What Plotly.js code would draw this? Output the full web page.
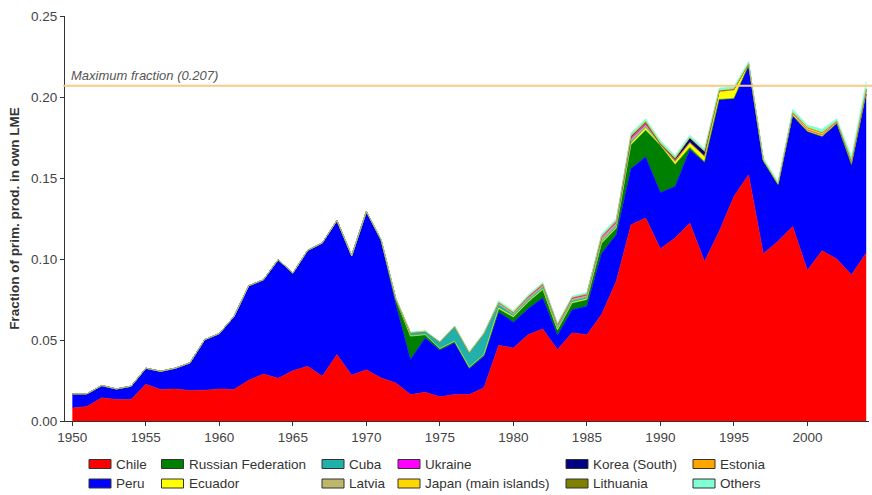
<!DOCTYPE html>
<html>
<head>
<meta charset="utf-8">
<script src="https://cdn.plot.ly/plotly-3.0.1.min.js"></script>
<style>
  html, body { margin: 0; padding: 0; background: #fff; }
  #chart { width: 872px; height: 495px; }
</style>
</head>
<body>
<div id="chart"></div>
<script>
// Fraction of primary production in own LME, by fishing country, 1950-2004
const years = [
  1950,1951,1952,1953,1954,1955,1956,1957,1958,1959,
  1960,1961,1962,1963,1964,1965,1966,1967,1968,1969,
  1970,1971,1972,1973,1974,1975,1976,1977,1978,1979,
  1980,1981,1982,1983,1984,1985,1986,1987,1988,1989,
  1990,1991,1992,1993,1994,1995,1996,1997,1998,1999,
  2000,2001,2002,2003,2004
];

const chile = [
  0.008,0.009,0.0143,0.0133,0.0133,0.0227,0.0194,0.0198,0.0188,0.019,
  0.0198,0.0194,0.0252,0.029,0.0264,0.031,0.0338,0.0276,0.041,0.0283,
  0.0316,0.0266,0.0235,0.0163,0.0178,0.0149,0.0163,0.0163,0.0205,0.0467,
  0.0451,0.0533,0.0568,0.0441,0.0544,0.0533,0.0657,0.0862,0.1211,0.1253,
  0.1064,0.1129,0.1222,0.0985,0.117,0.1386,0.152,0.1033,0.1109,0.1201,
  0.093,0.1051,0.100,0.0903,0.1037
];
const peru = [
  0.0088,0.0078,0.0076,0.0065,0.0082,0.0099,0.0113,0.0128,0.0171,0.0312,
  0.0342,0.0452,0.0583,0.0582,0.0732,0.0603,0.0715,0.0823,0.0828,0.0737,
  0.0977,0.0843,0.0485,0.0216,0.0335,0.0288,0.0319,0.0159,0.0195,0.0205,
  0.0159,0.016,0.0192,0.0089,0.0143,0.0175,0.0378,0.0288,0.0347,0.0377,
  0.0346,0.0319,0.0452,0.061,0.0815,0.0604,0.0675,0.0572,0.0349,0.0684,
  0.0857,0.0705,0.0836,0.0678,0.0983
];
const russianFederation = [
  0,0,0,0,0,0,0,0,0,0,
  0,0,0,0,0,0,0,0,0,0,
  0,0.001,0.003,0.0145,0.002,0.001,0.001,0.001,0.001,0.002,
  0.003,0.004,0.005,0.003,0.004,0.004,0.006,0.004,0.0145,0.0165,
  0.029,0.0135,0.0015,0.0005,0,0,0,0,0,0,
  0,0,0,0,0
];
const ecuador = [
  0,0,0,0,0,0,0,0,0,0,
  0,0,0,0,0,0,0,0,0,0,
  0,0,0,0,0,0,0,0,0,0.0005,
  0.0005,0.0005,0.0005,0.0005,0.0005,0.0005,0.0005,0.0005,0.001,0.0015,
  0.001,0.002,0.003,0.0035,0.005,0.0055,0.001,0.0005,0.0005,0.0015,
  0.001,0.001,0.001,0.002,0.002
];
const cuba = [
  0,0,0,0,0,0,0,0,0,0,
  0,0,0,0,0,0,0,0,0,0,
  0,0,0.0005,0.002,0.002,0.004,0.009,0.009,0.013,0.002,
  0.001,0.001,0.001,0.001,0.001,0.001,0.001,0.001,0.001,0.0005,
  0,0,0,0,0,0,0,0,0,0,
  0,0,0,0,0
];
const latvia = [
  0,0,0,0,0,0,0,0,0,0,
  0,0,0,0,0,0,0,0,0,0,
  0,0,0,0,0,0,0,0,0,0.001,
  0.001,0.001,0.001,0.001,0.001,0.001,0.0015,0.0015,0.0015,0.001,
  0,0,0,0,0,0,0,0,0,0,
  0,0,0,0,0
];
const ukraine = [
  0,0,0,0,0,0,0,0,0,0,
  0,0,0,0,0,0,0,0,0,0,
  0,0,0,0,0,0,0,0,0,0.0005,
  0.0005,0.001,0.001,0.001,0.001,0.001,0.001,0.001,0.001,0.001,
  0,0,0,0,0,0,0,0,0,0,
  0,0,0,0,0
];
const japan = [
  0,0,0,0,0,0,0,0,0,0,
  0,0,0,0,0,0,0,0,0,0,
  0,0,0,0,0,0,0,0,0,0,
  0,0,0,0,0,0,0.0005,0.0005,0.0005,0.0005,
  0,0.0005,0,0,0,0,0,0,0,0.0005,
  0.0015,0.0015,0.0005,0.0005,0.001
];
const korea = [
  0,0,0,0,0,0,0,0,0,0,
  0,0,0,0,0,0,0,0,0,0,
  0,0,0,0,0,0,0,0,0,0,
  0,0,0,0,0,0,0,0,0,0,
  0,0.001,0.003,0.003,0.0005,0.0005,0,0,0,0,
  0,0,0,0,0
];
const lithuania = [
  0,0,0,0,0,0,0,0,0,0,
  0,0,0,0,0,0,0,0,0,0,
  0,0,0,0,0,0,0,0,0,0,
  0,0,0,0,0,0,0,0,0.0005,0.0005,
  0.0003,0.0003,0,0,0,0,0,0,0,0,
  0,0,0,0,0
];
const estonia = [
  0,0,0,0,0,0,0,0,0,0,
  0,0,0,0,0,0,0,0,0,0,
  0,0,0,0,0,0,0,0,0,0,
  0,0,0,0,0,0,0,0,0.0005,0.0005,
  0.0003,0.0003,0,0,0,0,0,0,0,0,
  0,0,0,0,0
];
const others = [
  0,0,0,0,0,0,0,0,0,0,
  0,0,0,0,0,0,0,0,0,0,
  0,0.0005,0.0005,0.0005,0.0005,0.0005,0.0005,0.0005,0.0005,0.001,
  0.001,0.001,0.001,0.001,0.001,0.001,0.0015,0.0015,0.0015,0.0015,
  0.0015,0.0015,0.0015,0.0015,0.0015,0.0015,0.0015,0.0015,0.0015,0.002,
  0.0015,0.002,0.0015,0.003,0.0045
];

const maxFraction = 0.207;
const yTicks = [0, 0.05, 0.10, 0.15, 0.20, 0.25];

// stacking order, bottom to top
const series = [
  { name: 'Chile',                values: chile,             color: '#FF0000' },
  { name: 'Peru',                 values: peru,              color: '#0000FF' },
  { name: 'Russian Federation',   values: russianFederation, color: '#008000' },
  { name: 'Ecuador',              values: ecuador,           color: '#FFFF00' },
  { name: 'Cuba',                 values: cuba,              color: '#20B2AA' },
  { name: 'Latvia',               values: latvia,            color: '#BDB76B' },
  { name: 'Ukraine',              values: ukraine,           color: '#FF00FF' },
  { name: 'Japan (main islands)', values: japan,             color: '#FFD700' },
  { name: 'Korea (South)',        values: korea,             color: '#000080' },
  { name: 'Lithuania',            values: lithuania,         color: '#808000' },
  { name: 'Estonia',              values: estonia,           color: '#FFA500' },
  { name: 'Others',               values: others,            color: '#7FFFD4' }
];

const traces = series.map(s => ({
  type: 'scatter',
  mode: 'lines',
  x: years,
  y: s.values,
  name: s.name,
  stackgroup: 'catch',
  line: { color: s.color, width: 0.6 },
  fillcolor: s.color,
  showlegend: false,
  hoverinfo: 'x+y+name'
}));

const W = 872, H = 495;
const margin = { l: 65, r: 3, t: 16, b: 74 };
const plotW = W - margin.l - margin.r;
const plotH = H - margin.t - margin.b;
const px = v => (v - margin.l) / plotW;
const py = v => (H - margin.b - v) / plotH;

const FONT = '"Liberation Sans", Arial, Helvetica, sans-serif';

// Legend: two rows, filled column by column
const legendColX = [89, 161.5, 322, 398, 566, 693, 788];
const legendRowY = [464, 483.5];
const swatchW = 22, swatchH = 9;

const shapes = [{
  type: 'line', xref: 'paper', yref: 'y',
  x0: px(63), x1: px(W), y0: maxFraction, y1: maxFraction,
  line: { color: 'rgb(246,202,135)', width: 2 },
  layer: 'above'
}];
const annotations = [{
  xref: 'paper', yref: 'y', x: px(69), y: maxFraction,
  xanchor: 'left', yanchor: 'bottom', yshift: 1,
  text: '<i>Maximum fraction (0.207)</i>', showarrow: false,
  font: { family: FONT, size: 13, color: '#555' }
}];

series.forEach((s, i) => {
  const col = Math.floor(i / 2), row = i % 2;
  const x0 = legendColX[col], yc = legendRowY[row];
  shapes.push({
    type: 'rect', xref: 'paper', yref: 'paper',
    x0: px(x0), x1: px(x0 + swatchW),
    y0: py(yc + swatchH / 2), y1: py(yc - swatchH / 2),
    fillcolor: s.color, line: { color: '#333', width: 1 }
  });
  annotations.push({
    xref: 'paper', yref: 'paper',
    x: px(x0 + swatchW + 3), y: py(yc),
    xanchor: 'left', yanchor: 'middle',
    text: s.name, showarrow: false,
    font: { family: FONT, size: 13.5, color: '#333' }
  });
});

const layout = {
  width: W, height: H,
  margin: margin,
  paper_bgcolor: '#fff', plot_bgcolor: '#fff',
  font: { family: FONT, size: 13, color: '#444' },
  showlegend: false,
  xaxis: {
    range: [1949.5, 2004.19],
    tick0: 1950, dtick: 5,
    ticks: 'outside', ticklen: 4, tickcolor: '#333',
    showline: true, linecolor: '#333', linewidth: 1,
    showgrid: false, zeroline: false,
    tickfont: { family: FONT, size: 13.5, color: '#444' }
  },
  yaxis: {
    range: [0, 0.25],
    tickvals: yTicks, tickformat: '.2f',
    ticks: 'outside', ticklen: 4, tickcolor: '#333',
    showline: true, linecolor: '#333', linewidth: 1,
    showgrid: false, zeroline: false,
    tickfont: { family: FONT, size: 13.5, color: '#444' },
    title: {
      text: '<b>Fraction of prim. prod. in own LME</b>',
      font: { family: FONT, size: 13.5, color: '#333' },
      standoff: 8
    }
  },
  shapes: shapes,
  annotations: annotations
};

Plotly.newPlot('chart', traces, layout, { staticPlot: true, displayModeBar: false });
</script>
</body>
</html>
